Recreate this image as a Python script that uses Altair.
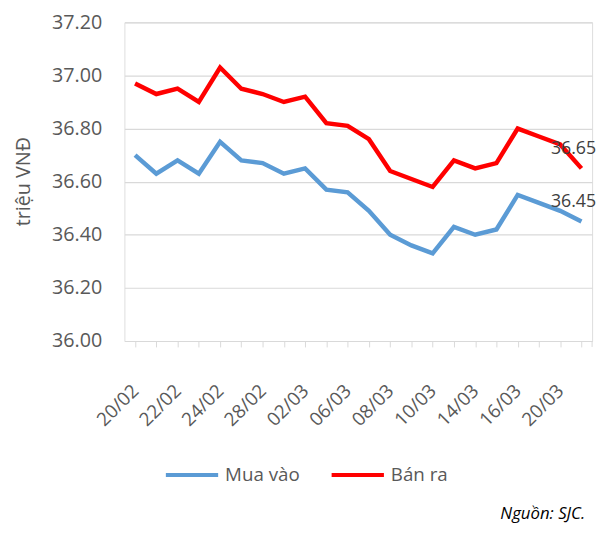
import altair as alt
import pandas as pd

dates = ["20/02", "21/02", "22/02", "23/02", "24/02", "27/02", "28/02", "01/03",
         "02/03", "03/03", "06/03", "07/03", "08/03", "09/03", "10/03", "13/03",
         "14/03", "15/03", "16/03", "17/03", "20/03", "21/03"]
labelled = ["20/02", "22/02", "24/02", "28/02", "02/03", "06/03", "08/03",
            "10/03", "14/03", "16/03", "20/03"]
mua_vao = [36.70, 36.63, 36.68, 36.63, 36.75, 36.68, 36.67, 36.63, 36.65, 36.57,
           36.56, 36.49, 36.40, 36.36, 36.33, 36.43, 36.40, 36.42, 36.55, 36.52,
           36.49, 36.45]
ban_ra = [36.97, 36.93, 36.95, 36.90, 37.03, 36.95, 36.93, 36.90, 36.92, 36.82,
          36.81, 36.76, 36.64, 36.61, 36.58, 36.68, 36.65, 36.67, 36.80, 36.77,
          36.74, 36.65]
series = ["Mua vào", "Bán ra"]
colors = ["#5B9BD5", "#FF0000"]
y_ticks = [36.0, 36.2, 36.4, 36.6, 36.8, 37.0, 37.2]

rows = []
for i, d in enumerate(dates):
    rows.append({"date": d, "series": series[0], "value": mua_vao[i], "last": i == len(dates) - 1})
    rows.append({"date": d, "series": series[1], "value": ban_ra[i], "last": i == len(dates) - 1})
df = pd.DataFrame(rows)

FONT = "Open Sans"
GREY = "#595959"
W, H = 474, 323

label_list = ",".join("'" + s + "'" for s in labelled)
label_expr = f"indexof([{label_list}], datum.value) >= 0 ? datum.value : ''"

x_enc = alt.X("date:N", sort=dates, title=None,
              scale=alt.Scale(paddingInner=0, paddingOuter=0),
              axis=alt.Axis(labelExpr=label_expr, labelAngle=-45, labelAlign="right",
                            labelBaseline="middle", labelFontSize=19, labelColor=GREY,
                            labelFont=FONT, labelPadding=41, bandPosition=0,
                            tickColor="#D9D9D9", tickSize=6, domainColor="#D9D9D9",
                            domainWidth=1.2, grid=False, labelOverlap=False))
y_enc = alt.Y("value:Q", scale=alt.Scale(domain=[36.0, 37.2], nice=False, zero=False),
              axis=alt.Axis(values=y_ticks, format=".2f", title="triệu VNĐ",
                            titleFont=FONT, titleFontSize=20, titleColor=GREY,
                            titleFontWeight="normal", titleX=-102, titleY=161,
                            titleAngle=270, titleAlign="center", titleBaseline="middle",
                            labelFont=FONT, labelFontSize=20, labelColor=GREY,
                            labelPadding=23, ticks=False, domain=False,
                            grid=True, gridColor="#D9D9D9", gridWidth=1.2))

color_enc = alt.Color("series:N", sort=series,
                      scale=alt.Scale(domain=series, range=colors),
                      legend=alt.Legend(title=None, orient="none", direction="horizontal",
                                        legendX=40, legendY=430, symbolType="stroke",
                                        symbolSize=2809, symbolStrokeWidth=4,
                                        labelFont=FONT, labelFontSize=19, labelColor=GREY,
                                        labelOffset=5, columnPadding=24))

lines = alt.Chart(df).mark_line(strokeWidth=4.5, strokeJoin="miter").encode(
    x=x_enc, y=y_enc, color=color_enc)

labels = alt.Chart(df).transform_filter("datum.last").mark_text(
    align="left", baseline="middle", dx=-31, dy=-20, font=FONT, fontSize=18,
    color="#404040").encode(
    x=alt.X("date:N", sort=dates), y="value:Q",
    text=alt.Text("value:Q", format=".2f"))

end_tick = alt.Chart(pd.DataFrame({"k": [0]})).mark_rule(color="#D9D9D9", strokeWidth=1).encode(
    x=alt.value(W), y=alt.value(H), y2=alt.value(H + 6))

source = alt.Chart(pd.DataFrame({"t": ["Nguồn: SJC."]})).mark_text(
    align="right", baseline="middle", font=FONT, fontSize=17, fontStyle="italic",
    color="#000000").encode(x=alt.value(467), y=alt.value(498), text="t:N")

chart = alt.layer(lines, labels, end_tick, source).properties(
    width=W, height=H,
    autosize=alt.AutoSizeParams(type="none"),
    padding={"left": 118, "top": 11, "right": 7, "bottom": 185},
).configure_view(stroke=None).configure(background="white")

chart.save("out.html", embed_options={"renderer": "svg", "actions": False})
